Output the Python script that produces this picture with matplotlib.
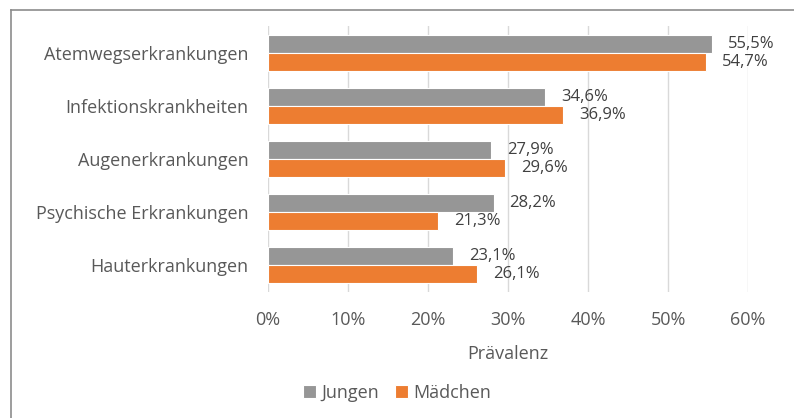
import matplotlib.pyplot as plt
import numpy as np
from matplotlib.lines import Line2D

plt.rcParams['font.family'] = ['Open Sans', 'DejaVu Sans']

kategorien = ["Atemwegserkrankungen", "Infektionskrankheiten", "Augenerkrankungen",
              "Psychische Erkrankungen", "Hauterkrankungen"]
jungen = [55.5, 34.6, 27.9, 28.2, 23.1]
maedchen = [54.7, 36.9, 29.6, 21.3, 26.1]
xticks = [0, 10, 20, 30, 40, 50, 60]

grau = '#969696'
orange = '#ED7D31'
textfarbe = '#595959'

fig = plt.figure(figsize=(7.94, 4.18), dpi=100)
ax = fig.add_axes([268 / 794, 1 - 292 / 418, 480 / 794, 266 / 418])

y = np.arange(len(kategorien))
h = 0.34
ax.barh(y - h / 2, jungen, height=h, color=grau, edgecolor='white', linewidth=0.8, label='Jungen', zorder=3)
ax.barh(y + h / 2, maedchen, height=h, color=orange, edgecolor='white', linewidth=0.8, label='Mädchen', zorder=3)

for i in range(len(kategorien)):
    ax.annotate(f"{jungen[i]:.1f}%".replace('.', ','), (jungen[i], y[i] - h / 2),
                xytext=(11.5, 0), textcoords='offset points', va='center', ha='left',
                fontsize=12, color='#404040')
    ax.annotate(f"{maedchen[i]:.1f}%".replace('.', ','), (maedchen[i], y[i] + h / 2),
                xytext=(11.5, 0), textcoords='offset points', va='center', ha='left',
                fontsize=12, color='#404040')

ax.set_xlim(0, 60)
ax.set_ylim(len(kategorien) - 0.5, -0.5)
ax.set_xticks(xticks)
ax.set_xticklabels([f"{t}%" for t in xticks])
ax.set_yticks(y)
ax.set_yticklabels(kategorien)
ax.tick_params(axis='both', length=0, labelsize=13, colors=textfarbe)
ax.tick_params(axis='x', pad=14)
ax.tick_params(axis='y', pad=14)
ax.grid(axis='x', color='#d9d9d9', linewidth=1, zorder=0)
for s in ax.spines.values():
    s.set_visible(False)
ax.set_xlabel('Prävalenz', fontsize=13, color=textfarbe, labelpad=11)

fig.legend(loc='lower center', bbox_to_anchor=(0.5, 0.0), ncol=2, frameon=False,
           fontsize=13, labelcolor=textfarbe, handlelength=0.7, handleheight=0.7,
           handletextpad=0.3, columnspacing=0.9)

# Rahmen (nur oben und links sichtbar)
fig.add_artist(Line2D([11 / 794, 11 / 794], [0, 1 - 10 / 418], transform=fig.transFigure, color='#8c8c8c', linewidth=1.2))
fig.add_artist(Line2D([11 / 794, 1], [1 - 10 / 418, 1 - 10 / 418], transform=fig.transFigure, color='#8c8c8c', linewidth=1.2))

fig.savefig('out.png', dpi=100)
